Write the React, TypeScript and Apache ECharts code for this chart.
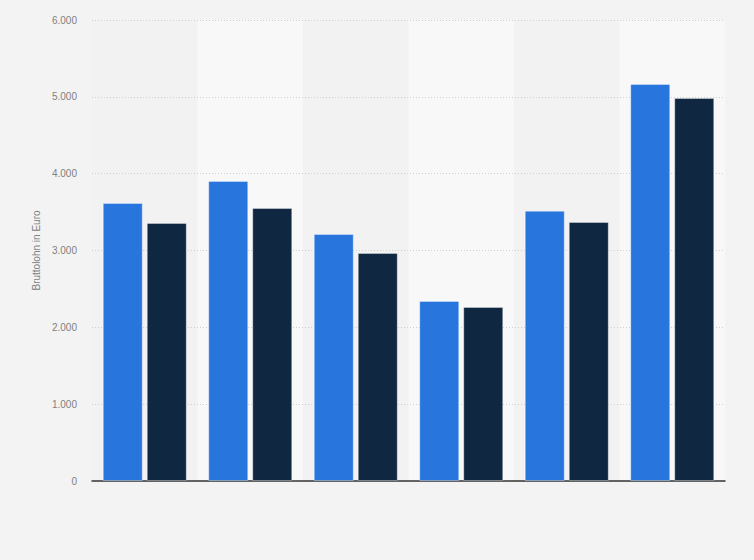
import React, { useEffect, useRef } from "react";
import * as echarts from "echarts";

const categories = ["1", "2", "3", "4", "5", "6"];
const seriesA = [3618, 3905, 3215, 2343, 3518, 5167];
const seriesB = [3358, 3553, 2968, 2265, 3371, 4985];
const yTicks = [0, 1000, 2000, 3000, 4000, 5000, 6000];

const fmt = (v: number) => String(v).replace(/\B(?=(\d{3})+(?!\d))/g, ".");

export default function App() {
  const ref = useRef<HTMLDivElement>(null);
  useEffect(() => {
    if (!ref.current) return;
    const chart = echarts.init(ref.current, null, { renderer: "svg" });
    chart.setOption({
      animation: false,
      backgroundColor: "#f3f3f3",
      textStyle: { fontFamily: "Liberation Sans, Arial, sans-serif" },
      grid: { left: 92, right: 29, top: 20, bottom: 79 },
      xAxis: {
        type: "category",
        data: categories,
        z: 0,
        axisLine: { lineStyle: { color: "#333", width: 1.5 } },
        axisTick: { show: false },
        axisLabel: { show: false },
        splitArea: { show: true, areaStyle: { color: ["#f2f2f2", "#f8f8f8"] } },
      },
      yAxis: {
        type: "value",
        z: 1,
        min: yTicks[0],
        max: yTicks[yTicks.length - 1],
        interval: 1000,
        name: "Bruttolohn in Euro",
        nameLocation: "middle",
        nameGap: 48,
        nameTextStyle: { color: "#808080", fontSize: 10 },
        axisLine: { show: false },
        axisTick: { show: false },
        axisLabel: { color: "#808080", fontSize: 10, margin: 15, formatter: (v: number) => fmt(v) },
        splitLine: { show: true, showMinLine: false, lineStyle: { color: "#cfcfcf", type: [1, 2], width: 1 } },
      },
      series: [
        {
          type: "bar",
          data: seriesA,
          barWidth: 40,
          barGap: "10%",
          z: 3,
          itemStyle: { color: "#2876dd", borderColor: "rgba(255,255,255,0.35)", borderWidth: 1 },
        },
        {
          type: "bar",
          data: seriesB,
          barWidth: 40,
          barGap: "10%",
          z: 3,
          itemStyle: { color: "#0f2740", borderColor: "rgba(255,255,255,0.35)", borderWidth: 1 },
        },
      ],
    });
    return () => chart.dispose();
  }, []);
  return <div ref={ref} style={{ width: 754, height: 560, position: "fixed", left: 0, top: 0 }} />;
}
